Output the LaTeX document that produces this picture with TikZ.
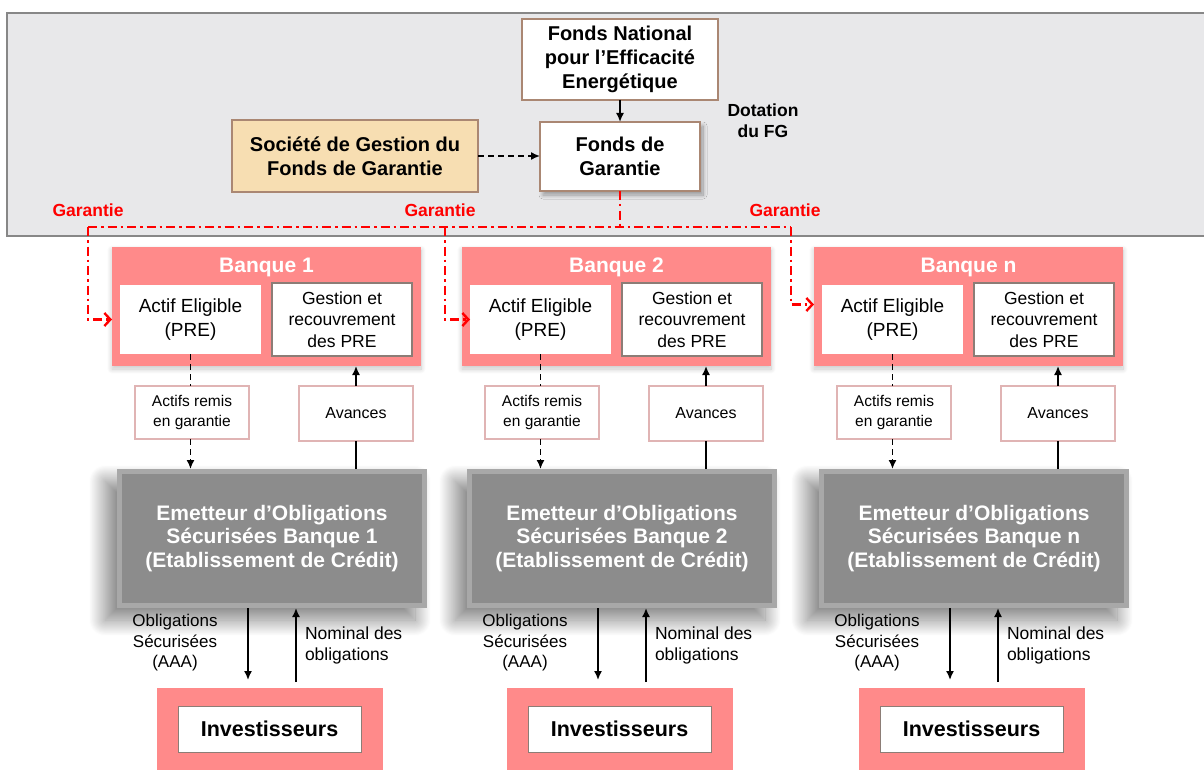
\documentclass[tikz,border=0pt]{standalone}
\usepackage{fontspec}
\setmainfont{Liberation Sans}
\usetikzlibrary{arrows.meta,shadows.blur}
\definecolor{bggray}{RGB}{232,232,234}
\definecolor{bgline}{RGB}{135,135,135}
\definecolor{pinkbox}{RGB}{255,138,138}
\definecolor{wheatbox}{RGB}{247,222,178}
\definecolor{brownline}{RGB}{170,135,115}
\definecolor{pinkline}{RGB}{224,180,180}
\definecolor{emgray}{RGB}{140,140,140}
\definecolor{embevel}{RGB}{168,168,168}
\definecolor{gestline}{RGB}{140,125,118}
\definecolor{redline}{RGB}{255,0,0}
\newcommand\fsz[2]{\fontsize{#1}{#2}\selectfont}
\begin{document}
\begin{tikzpicture}[x=1pt,y=-1pt,
  every node/.style={inner sep=0pt,outer sep=0pt,align=center},
  topbox/.style={draw=brownline,fill=white,line width=1.2pt,font=\bfseries\fsz{20}{24}},
  redd/.style={draw=redline,line width=2.4pt,dash pattern=on 9pt off 4pt on 2.5pt off 4pt},
  redtip/.style={-{Straight Barb[length=6pt,width=13pt,line width=2.4pt]}},
  blk/.style={line width=1.6pt},
  tip/.style={-{Latex[length=9pt,width=8pt]}},
  dsh/.style={dash pattern=on 6pt off 4pt},
  smallbox/.style={fill=white,draw=pinkline,line width=2.6pt},
]
\useasboundingbox (0,0) rectangle (1204,770);
% background band
\fill[bggray] (7,13) rectangle (1212,236);
\draw[bgline,line width=1.4pt] (1212,13) -- (7,13) -- (7,236) -- (1212,236);

% top nodes
\node[topbox,minimum width=196pt,minimum height=81pt] (fnee) at (620,59.5) {Fonds National\\pour l’Efficacité\\Energétique};
\node[topbox,minimum width=160pt,minimum height=69pt,
  blur shadow={shadow xshift=3pt,shadow yshift=-4pt,shadow blur radius=4pt,shadow opacity=35,shadow blur steps=12}] (fg) at (620,156.5) {Fonds de\\Garantie};
\node[topbox,fill=wheatbox,line width=1.4pt,minimum width=246pt,minimum height=72pt] (sgfg) at (355,156) {Société de Gestion du\\Fonds de Garantie};
\node[font=\bfseries\fsz{17.5}{21}] (dot) at (763,121) {Dotation\\du FG};

\draw[blk,tip] (fnee) -- (fg);
\draw[blk,dsh,tip] (sgfg.east) -- (sgfg.east -| fg.west);

% Garantie labels
\node[font=\bfseries\fsz{17.5}{21},text=redline] (g1) at (88,210) {Garantie};
\node[font=\bfseries\fsz{17.5}{21},text=redline] (g2) at (440,210) {Garantie};
\node[font=\bfseries\fsz{17.5}{21},text=redline] (g3) at (785,210) {Garantie};

\coordinate (rL) at (88,227);
\coordinate (rM) at (445,227);
\coordinate (rR) at (791,227);

\foreach \c/\dx/\lab in {1/0/1,2/350/2,3/702/n}{
  \node[fill=pinkbox,minimum width=309pt,minimum height=119pt,
    blur shadow={shadow xshift=0pt,shadow yshift=-3pt,shadow blur radius=5pt,shadow opacity=22,shadow blur steps=12}] (ban\c) at (266.5+\dx,306.5) {};
  \node[font=\bfseries\fsz{21}{24},text=white] (bt\c) at (266.5+\dx,267) {Banque \lab};
  \node[fill=white,minimum width=141pt,minimum height=69pt,font=\fsz{19}{24}] (act\c) at (190.5+\dx,319.5) {Actif Eligible\\(PRE)};
  \node[fill=white,draw=gestline,line width=1.3pt,minimum width=140pt,minimum height=73pt,font=\fsz{17.5}{21.5}] (ges\c) at (342+\dx,319.5) {Gestion et\\recouvrement\\des PRE};
  \node[smallbox,minimum width=114pt,minimum height=53pt,font=\fsz{15.5}{20}] (arg\c) at (192+\dx,412.5) {Actifs remis\\en garantie};
  \node[smallbox,minimum width=114pt,minimum height=55pt,font=\fsz{16}{20}] (av\c) at (356+\dx,413.5) {Avances};
  % emetteur
  \node[fill=embevel,minimum width=310pt,minimum height=139pt,
    blur shadow={shadow xshift=-12pt,shadow yshift=-12pt,shadow blur radius=16pt,shadow opacity=50,shadow blur steps=40}] (em\c) at (272+\dx,538.5) {};
  \node[fill=emgray,minimum width=300pt,minimum height=129pt,text=white,font=\bfseries\fsz{21}{23.5}] (emi\c) at (272+\dx,538.5) {Emetteur d’Obligations\\Sécurisées Banque \lab\\(Etablissement de Crédit)};
  % investisseurs
  \node[fill=pinkbox,minimum width=226pt,minimum height=90pt] (inv\c) at (270+\dx,733) {};
  \node[fill=white,draw=gestline,line width=0.9pt,minimum width=183pt,minimum height=46pt,font=\bfseries\fsz{21.5}{24}] (invi\c) at (269.5+\dx,729) {Investisseurs};
  % connectors
  \draw[blk,dsh] (act\c.south) -- (act\c.south |- arg\c.north);
  \draw[blk,dsh,tip] (act\c.south |- arg\c.south) -- (act\c.south |- em\c.north);
  \draw[blk] (em\c.north -| av\c) -- (av\c.south);
  \draw[blk,tip] (av\c.north) -- (av\c.north |- ban\c.south);
  \draw[blk,tip,shorten >=8pt] ([xshift=-24pt]em\c.south) -- ([xshift=-24pt]em\c.south |- inv\c.north);
  \draw[blk,tip,shorten <=6pt] ([xshift=24pt]em\c.south |- inv\c.north) -- ([xshift=24pt]em\c.south);
  \node[font=\fsz{17}{20.5}] (obl\c) at (175+\dx,643) {Obligations\\Sécurisées\\(AAA)};
  \node[font=\fsz{17.5}{21},anchor=west,align=left] (nom\c) at (305+\dx,645) {Nominal des\\obligations};
}

% red guarantee lines
\draw[redd] (fg.south) -- (fg.south |- rL);
\draw[redd] (rL) -- (rR);
\draw[redd,redtip] (rL) |- (act1.west -| ban1.west);
\draw[redd,redtip] (rM) |- (act2.west);
\draw[redd,redtip] (rR) |- ([yshift=15pt]act3.west -| ban3.west);
\end{tikzpicture}
\end{document}
